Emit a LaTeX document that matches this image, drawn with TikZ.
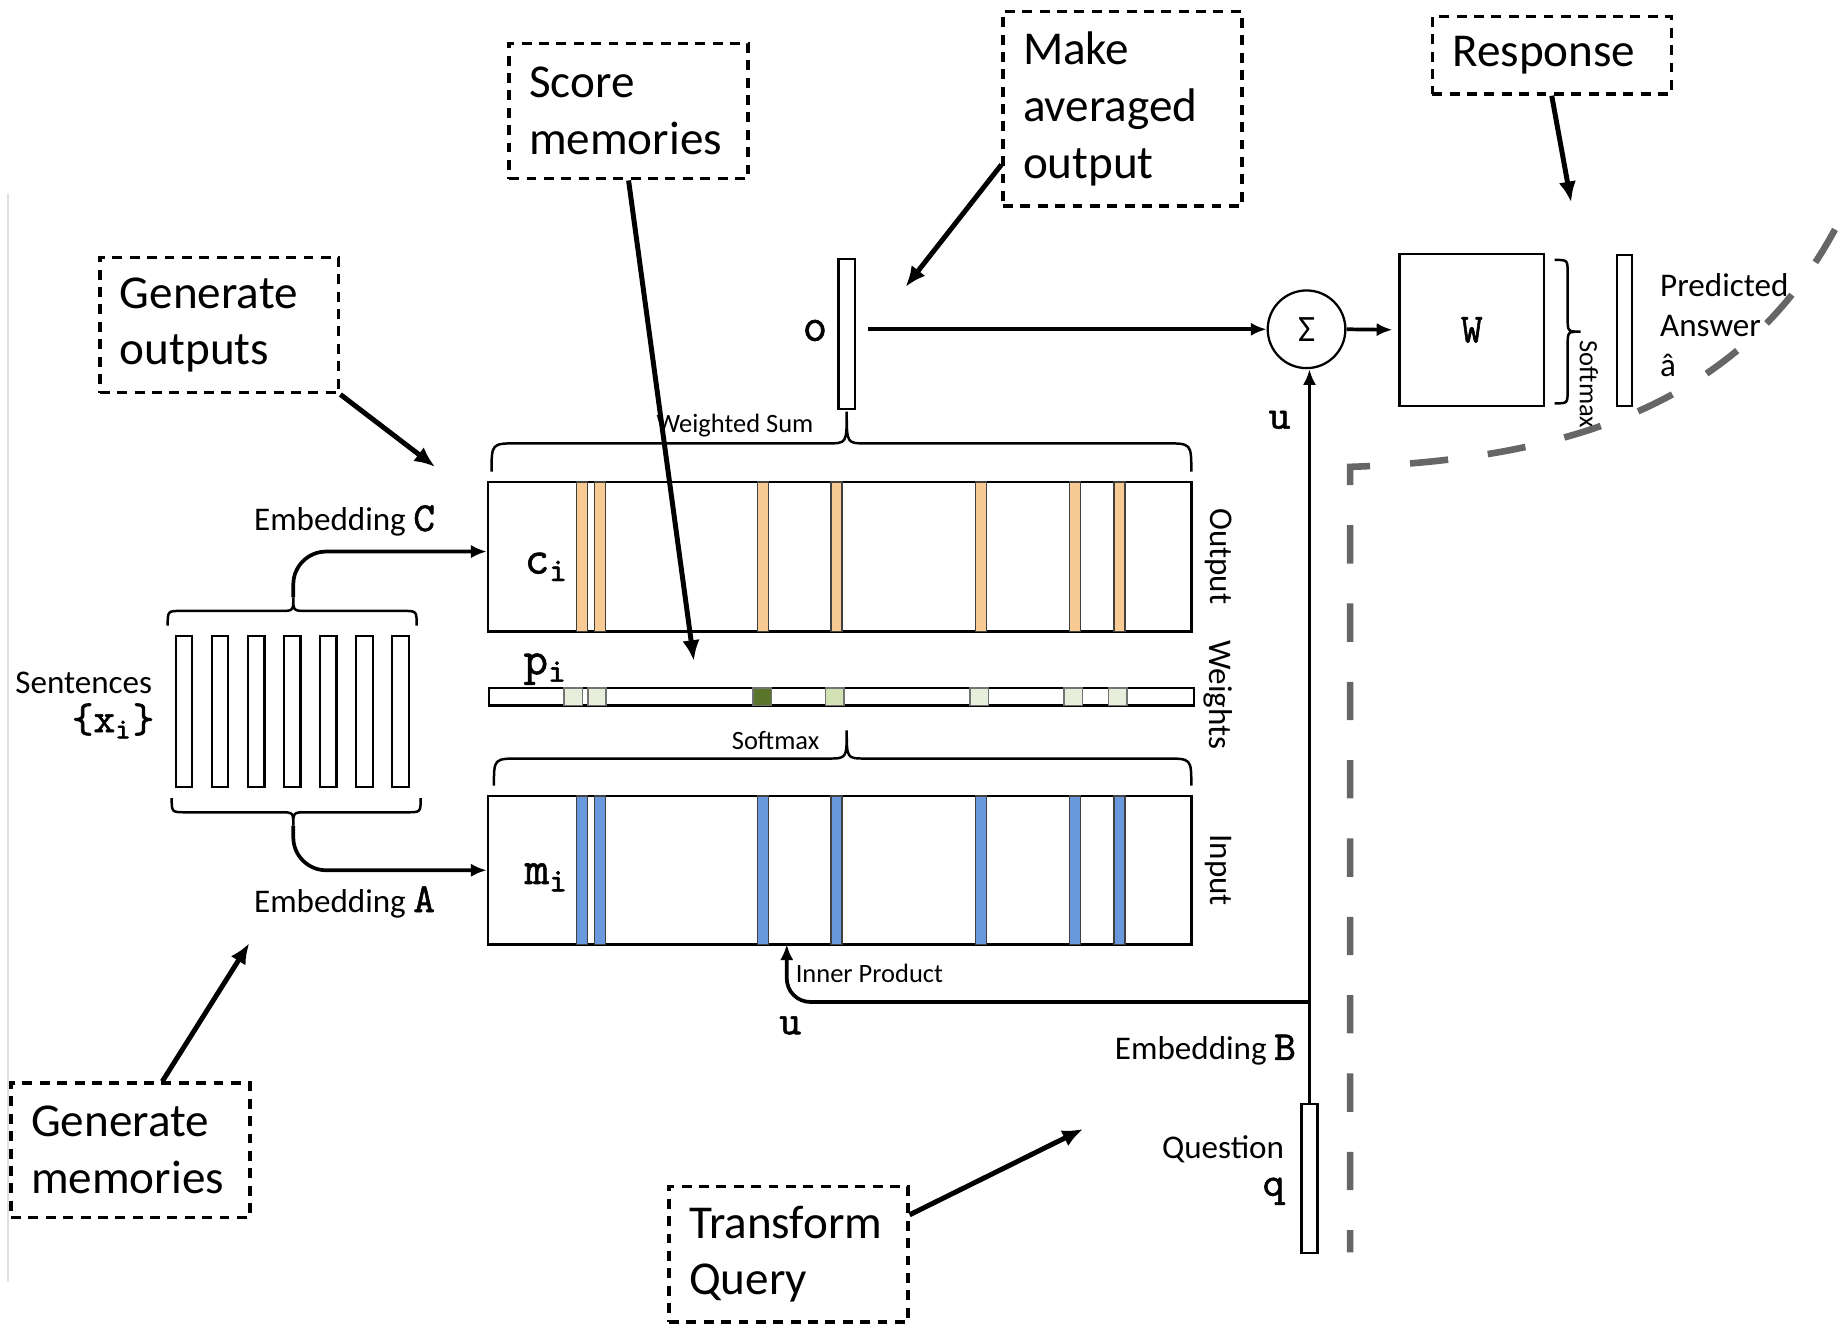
\documentclass[tikz,border=0pt]{standalone}
\usepackage{fontspec}
\setmainfont{Carlito}
\newfontfamily\codefont[FakeBold=1.3]{Latin Modern Mono}
\usetikzlibrary{arrows.meta}

\definecolor{stripeout}{HTML}{F8CB94}
\definecolor{stripein}{HTML}{6A98DC}
\definecolor{wpale}{HTML}{E8EEDC}
\definecolor{wdark}{HTML}{5A7429}
\definecolor{wlight}{HTML}{D2E2B4}
\definecolor{dashgray}{HTML}{666666}

\tikzset{
  callout/.style={draw, line width=0.8pt, dash pattern=on 2.4pt off 1.8pt, align=left,
    text width=1.69cm, inner xsep=0.17cm, inner ysep=0pt,
    font=\fontsize{11.4}{13.7}\selectfont},
  callarrow/.style={-{Latex[length=5pt,width=4.2pt]}, line width=1.2pt},
  flow/.style={-{Latex[length=3.8pt,width=3.2pt]}, line width=0.9pt},
  membox/.style={draw, line width=0.55pt, inner sep=0pt},
  vecbar/.style={membox, minimum width=0.14cm, minimum height=1.28cm},
  lbl/.style={inner sep=0pt, font=\fontsize{8}{9.7}\selectfont},
  smalllbl/.style={inner sep=0pt, font=\fontsize{6.4}{7.7}\selectfont},
  mono/.style={inner sep=0pt, font=\codefont\fontsize{10}{11}\selectfont},
  monobig/.style={inner sep=0pt, font=\codefont\fontsize{11.5}{12}\selectfont},
  bracepath/.style={line width=0.6pt},
}

\begin{document}
\begin{tikzpicture}[x=0.01cm, y=-0.01cm]
  \useasboundingbox (0,0) rectangle (1568,1127);
  \draw[black!12, line width=0.5pt] (7,165) -- (7,1090);

  % callouts
  \node[callout, minimum height=1.15cm] (genout) at (186.5,276.5) {Generate\\outputs};
  \node[callout, minimum height=1.15cm] (score) at (534.5,94.5) {Score\\memories};
  \node[callout, minimum height=1.65cm] (avg) at (954.5,92.5) {Make\\averaged\\output};
  \node[callout, minimum height=0.66cm] (resp) at (1319.5,47) {Response};
  \node[callout, minimum height=1.14cm] (genmem) at (111,978) {Generate\\memories};
  \node[callout, minimum height=1.15cm] (tq) at (670.5,1066.5) {Transform\\Query};

  \coordinate (genout-to) at (370,397);
  \coordinate (score-to) at (590,562);
  \coordinate (avg-to) at (770,244);
  \coordinate (resp-to) at (1336,172);
  \coordinate (genmem-to) at (212,802);
  \coordinate (tq-to) at (921,960);
  \draw[callarrow] (genout.south east) -- (genout-to);
  \draw[callarrow] (score.south) -- (score-to);
  \draw[callarrow] ([yshift=-0.475cm]avg.west) -- (avg-to);
  \draw[callarrow] (resp.south) -- (resp-to);
  \draw[callarrow] ([xshift=0.27cm]genmem.north) -- (genmem-to);
  \draw[callarrow] ([yshift=0.335cm]tq.east) -- (tq-to);

  % sentences
  \foreach \i in {0,...,6}
    \node[vecbar] (sent\i) at ({156.4+30.7*\i},605) {};
  \node[lbl, anchor=east] (sentlbl) at (130,581) {Sentences};
  \node[mono, anchor=east] (xlbl) at (132,613) {\{x\textsubscript{i}\}};

  \draw[bracepath] (142.6,532) .. controls (142.6,519.5) .. (154,519.5) -- (238,519.5)
    .. controls (249.4,519.5) .. (249.4,508) .. controls (249.4,519.5) .. (261,519.5)
    -- (343,519.5) .. controls (354.3,519.5) .. (354.3,532);
  \draw[bracepath] (146,678.6) .. controls (146,690.7) .. (158,690.7) -- (238,690.7)
    .. controls (249.4,690.7) .. (249.4,702) .. controls (249.4,690.7) .. (261,690.7)
    -- (346,690.7) .. controls (357.7,690.7) .. (357.7,678.6);
  \coordinate (ctip) at (249.4,508);
  \coordinate (atip) at (249.4,702);

  % memory blocks
  \node[membox, minimum width=5.98cm, minimum height=1.27cm] (outbox) at (714,473.5) {};
  \node[membox, minimum width=5.99cm, minimum height=0.15cm] (wbar) at (715.5,592.5) {};
  \node[membox, minimum width=5.98cm, minimum height=1.26cm] (inbox) at (714,740) {};
  \foreach \x in {495,510.3,648.9,711.3,834.2,914,951.7} {
    \draw[fill=stripeout, draw=black!75, line width=0.4pt] ({\x-4.7},410) rectangle ({\x+4.7},537);
    \draw[fill=stripein, draw=black!75, line width=0.4pt] ({\x-4.7},677) rectangle ({\x+4.7},803);
  }
  \foreach \x/\c in {487.4/wpale,507.7/wpale,648.1/wdark,709.6/wlight,832.6/wpale,912.6/wpale,950.4/wpale}
    \draw[fill=\c, draw=black!55, line width=0.4pt] ({\x-7.8},585) rectangle ({\x+7.8},600);

  \node[monobig] (clbl) at (465,482) {c\textsubscript{i}};
  \node[monobig] (plbl) at (464,569) {p\textsubscript{i}};
  \node[monobig] (mlbl) at (465,746) {m\textsubscript{i}};
  \node[lbl, rotate=-90] (outlbl) at (1036,473) {Output};
  \node[lbl, rotate=-90] (wlbl) at (1036,591) {Weights};
  \node[lbl, rotate=-90] (inlbl) at (1036,740) {Input};

  \draw[bracepath] (418,401) .. controls (418,377) .. (440,377) -- (704,377)
    .. controls (720,377) .. (720,350) .. controls (720,377) .. (736,377)
    -- (991,377) .. controls (1013,377) .. (1013,401);
  \node[smalllbl] (wsum) at (625,362) {Weighted Sum};
  \draw[bracepath] (420,668) .. controls (420,645) .. (442,645) -- (704,645)
    .. controls (720,645) .. (720,621) .. controls (720,645) .. (736,645)
    -- (991,645) .. controls (1013,645) .. (1013,668);
  \node[smalllbl] (smax) at (659.5,630) {Softmax};

  \draw[flow, rounded corners=0.28cm] (ctip) |- ([yshift=0.045cm]outbox.west);
  \draw[flow, rounded corners=0.28cm] (atip) |- (inbox.west);
  \node[lbl] (embc) at (293,443) {Embedding {\codefont\fontsize{10}{10}\selectfont C}};
  \node[lbl] (emba) at (293,767) {Embedding {\codefont\fontsize{10}{10}\selectfont A}};

  % output side
  \node[vecbar] (obar) at (720,284) {};
  \node[monobig] (olbl) at (693,281) {o};
  \node[draw, circle, line width=0.55pt, minimum size=0.66cm, inner sep=0pt,
    font=\fontsize{9}{10}\selectfont] (sum) at (1111,280) {Σ};
  \node[membox, minimum width=1.23cm, minimum height=1.29cm] (wbox) at (1251.5,280.5) {};
  \node[mono] (wlbl2) at (wbox) {W};
  \node[membox, minimum width=0.13cm, minimum height=1.28cm] (abar) at (1381.4,281) {};
  \draw[bracepath] (1322,221) .. controls (1333,221) .. (1333,232) -- (1333,270)
    .. controls (1333,282) .. (1344,282) .. controls (1333,282) .. (1333,294)
    -- (1333,332) .. controls (1333,343) .. (1322,343);
  \node[smalllbl, rotate=-90] (smax2) at (1351,327) {Softmax};
  \node[lbl, anchor=north west, align=left] (anslbl) at (1411,232)
    {Predicted\\Answer\\â};

  \draw[flow, shorten <=0.1cm] (obar.east |- sum.west) -- (sum.west);
  \draw[flow, shorten >=0.05cm] (sum.east) -- (wbox.west);

  % question side
  \node[membox, minimum width=0.135cm, minimum height=1.27cm] (qbar) at (1113.5,1002) {};
  \draw[flow] (qbar.north) -- (qbar.north |- sum.south);
  \coordinate (junc) at (1113.5,852);
  \coordinate (ipin) at (669,803);
  \draw[flow, rounded corners=0.2cm] (junc) -| (ipin);
  \node[mono] (ulbl) at (1088,357) {u};
  \node[mono] (ulbl2) at (672,872) {u};
  \node[smalllbl, anchor=west] (iplbl) at (676,828) {Inner Product};
  \node[lbl] (embb) at (1025,893) {Embedding {\codefont\fontsize{10}{10}\selectfont B}};
  \node[lbl] (qlbl) at (1040,977) {Question};
  \node[mono] (qlbl2) at (1083,1013) {q};

  % dashed boundary
  \draw[dashgray, line width=1.6pt, dash pattern=on 9.27pt off 9.67pt, dash phase=3.87pt]
    (1148,1065) -- (1148,397) .. controls (1350,390) and (1500,335) .. (1575,165);
\end{tikzpicture}
\end{document}
